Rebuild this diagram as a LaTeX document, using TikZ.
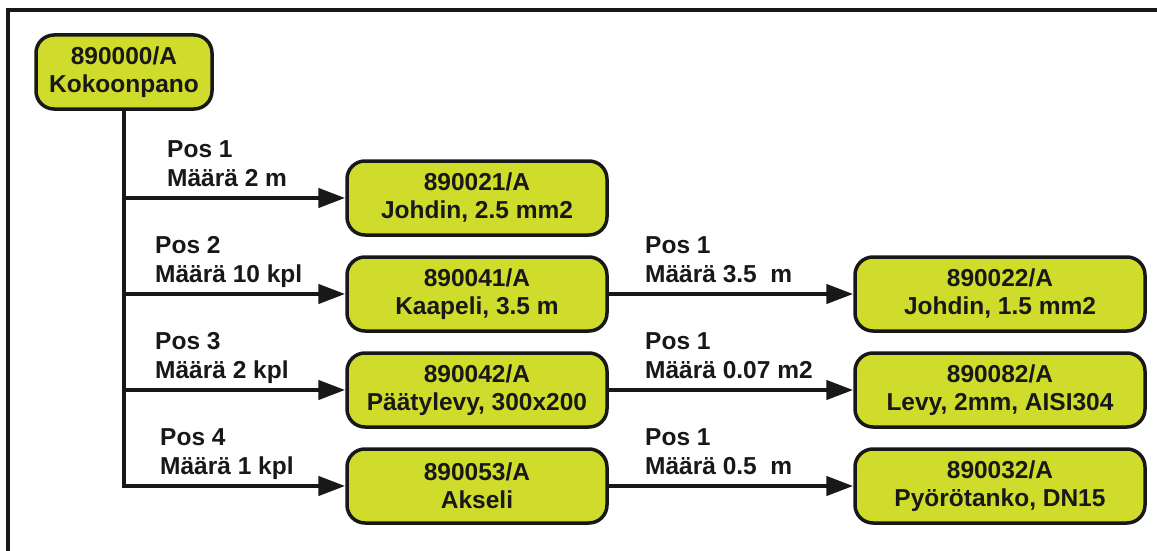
\documentclass[tikz,border=0pt]{standalone}
\usepackage{fontspec}
\setmainfont{Liberation Sans}
\usetikzlibrary{arrows.meta}
\definecolor{partfill}{RGB}{207,220,44}
\definecolor{ink}{RGB}{24,24,24}
\tikzset{
  part/.style={draw=ink, line width=3.5pt, fill=partfill, rounded corners=18pt,
    minimum height=74pt, align=center, inner sep=0pt, text=ink,
    font=\fontsize{24.5}{28}\selectfont\bfseries},
  partA/.style={part, minimum width=260pt},
  partB/.style={part, minimum width=290pt},
  link/.style={draw=ink, line width=4.5pt,
    -{Triangle[length=27pt, width=19pt]}},
  qty/.style={anchor=base west, inner sep=0pt, text=ink,
    font=\fontsize{24.5}{28}\selectfont\bfseries}
}
\begin{document}
\begin{tikzpicture}[x=1pt, y=-1pt]
  \useasboundingbox (0,0) rectangle (1157,551);
  % frame
  \draw[ink, line width=4.5pt] (8,551) -- (8,10) -- (1157,10);

  % assembly and its parts
  \node[part, minimum width=176pt] (root) at (124,72) {890000/A\\Kokoonpano};
  \node[partA] (p1) at (477,198) {890021/A\\Johdin, 2.5 mm2};
  \node[partA] (p2) at (477,294) {890041/A\\Kaapeli, 3.5 m};
  \node[partA] (p3) at (477,390) {890042/A\\Päätylevy, 300x200};
  \node[partA] (p4) at (477,486) {890053/A\\Akseli};
  \node[partB] (s2) at (1000,294) {890022/A\\Johdin, 1.5 mm2};
  \node[partB] (s3) at (1000,390) {890082/A\\Levy, 2mm, AISI304};
  \node[partB] (s4) at (1000,486) {890032/A\\Pyörötanko, DN15};

  % structure links
  \draw[link] (root.south) |- (p1.west);
  \draw[link] (root.south) |- (p2.west);
  \draw[link] (root.south) |- (p3.west);
  \draw[link, rounded corners=0pt] (root.south) |- (p4.west);
  \draw[link] (p2.east) -- (s2.west);
  \draw[link] (p3.east) -- (s3.west);
  \draw[link] (p4.east) -- (s4.west);

  % position and quantity labels
  \node[qty] (l1a) at (167,157) {Pos 1};
  \node[qty] (l1b) at (167,186) {Määrä 2 m};
  \node[qty] (l2a) at (155,253) {Pos 2};
  \node[qty] (l2b) at (155,282) {Määrä 10 kpl};
  \node[qty] (l3a) at (155,349) {Pos 3};
  \node[qty] (l3b) at (155,378) {Määrä 2 kpl};
  \node[qty] (l4a) at (160,445) {Pos 4};
  \node[qty] (l4b) at (160,474) {Määrä 1 kpl};

  \node[qty] (r2a) at (645,253) {Pos 1};
  \node[qty] (r2b) at (645,282) {Määrä 3.5\ \ m};
  \node[qty] (r3a) at (645,349) {Pos 1};
  \node[qty] (r3b) at (645,378) {Määrä 0.07 m2};
  \node[qty] (r4a) at (645,445) {Pos 1};
  \node[qty] (r4b) at (645,474) {Määrä 0.5\ \ m};
\end{tikzpicture}
\end{document}
